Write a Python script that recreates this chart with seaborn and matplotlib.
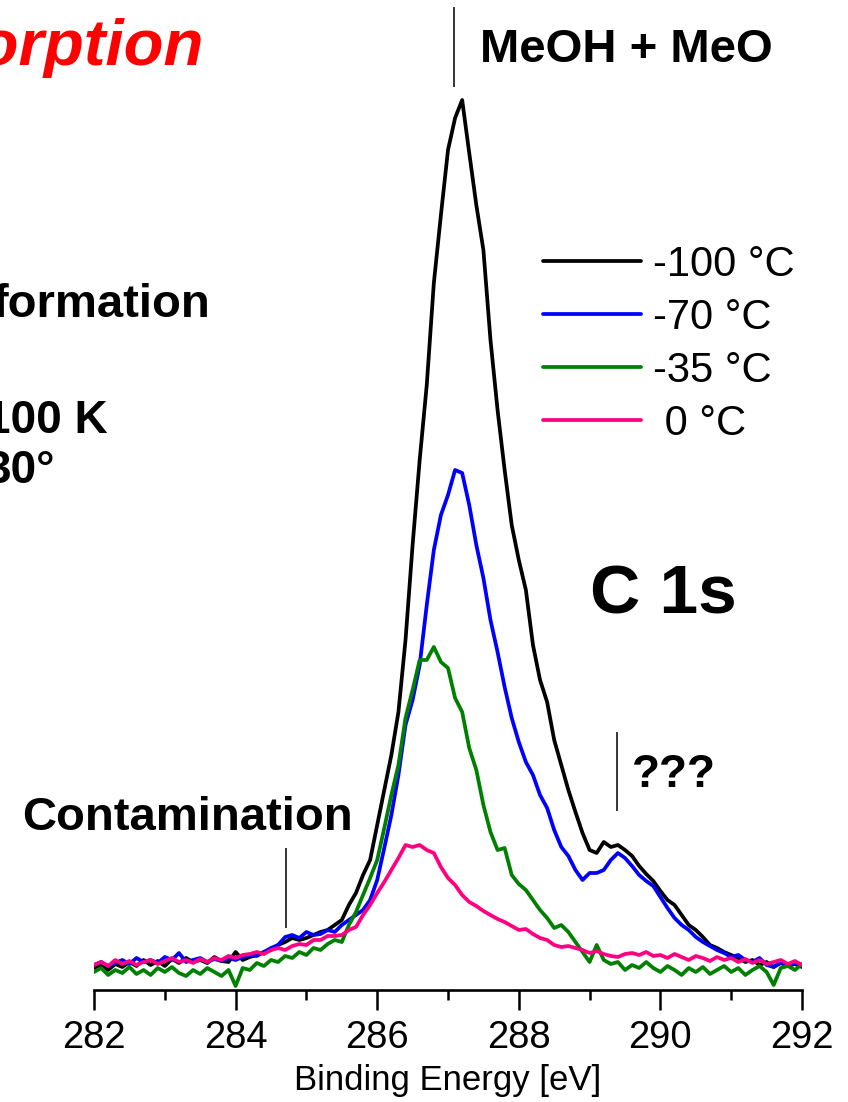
import numpy as np
import pandas as pd
import matplotlib
matplotlib.use("Agg")
import matplotlib.pyplot as plt
import seaborn as sns

# C 1s spectra after annealing to each temperature (arb. units, 0.1 eV steps)
energy = np.round(np.arange(282.0, 292.0 + 1e-9, 0.1), 1)

temps = ["-100 °C", "-70 °C", "-35 °C", " 0 °C"]
colors = ["#000000", "#0000FF", "#008000", "#FF0080"]

c1s_m100 = [
    22, 25, 20, 26, 23, 28, 24, 30, 25, 29,
    24, 31, 27, 32, 28, 30, 27, 33, 29, 28,
    38, 30, 33, 35, 38, 40, 45, 48, 52, 50,
    52, 55, 58, 60, 65, 70, 85, 97, 115, 130,
    165, 200, 235, 278, 350, 445, 530, 605, 707, 775,
    840, 872, 890, 837, 785, 740, 650, 580, 520, 465,
    430, 400, 345, 310, 288, 250, 225, 200, 178, 157,
    140, 137, 148, 143, 145, 140, 134, 124, 116, 109,
    99, 90, 85, 75, 65, 60, 53, 45, 42, 38,
    35, 32, 28, 30, 25, 28, 23, 27, 24, 26,
    23,
]
c1s_m70 = [
    25, 28, 24, 27, 30, 26, 32, 28, 30, 27,
    33, 30, 37, 28, 30, 32, 28, 31, 29, 32,
    30, 33, 35, 34, 38, 42, 45, 53, 55, 52,
    58, 55, 56, 60, 58, 65, 70, 75, 80, 90,
    110, 142, 175, 215, 265, 290, 325, 385, 440, 475,
    495, 520, 517, 485, 445, 412, 370, 338, 303, 272,
    248, 228, 215, 195, 182, 160, 143, 134, 120, 110,
    117, 117, 120, 130, 137, 132, 124, 115, 109, 104,
    93, 82, 72, 65, 60, 53, 48, 44, 40, 37,
    33, 35, 30, 28, 32, 25, 23, 28, 24, 27,
    24,
]
c1s_m35 = [
    18, 22, 15, 20, 17, 23, 16, 20, 15, 22,
    18, 23, 17, 14, 20, 16, 22, 18, 14, 20,
    4, 22, 20, 27, 24, 30, 28, 34, 32, 38,
    35, 42, 40, 46, 50, 48, 65, 78, 95, 112,
    130, 162, 195, 225, 272, 300, 330, 330, 343, 328,
    322, 292, 278, 242, 220, 185, 158, 140, 142, 115,
    106, 100, 90, 80, 72, 62, 65, 58, 48, 38,
    28, 45, 30, 26, 28, 20, 25, 22, 28, 22,
    18, 24, 20, 15, 22, 18, 23, 16, 20, 24,
    18, 22, 15, 20, 24, 18, 5, 22, 24, 20,
    26,
]
c1s_0 = [
    25, 28, 24, 30, 26, 29, 25, 28, 30, 26,
    29, 32, 28, 30, 27, 31, 28, 32, 30, 34,
    32, 35, 36, 38, 36, 40, 42, 40, 44, 46,
    45, 50, 50, 54, 54, 55, 60, 63, 75, 85,
    97, 108, 120, 132, 145, 143, 145, 140, 137, 123,
    112, 105, 95, 88, 84, 79, 75, 71, 68, 64,
    60, 61, 56, 52, 50, 45, 43, 44, 42, 40,
    37, 39, 36, 34, 33, 36, 37, 35, 38, 34,
    35, 32, 36, 33, 30, 34, 32, 29, 33, 30,
    32, 28, 31, 27, 30, 26, 28, 30, 26, 29,
    25,
]

# marker positions (eV) and their vertical extents (arb. units)
marker_e = [287.08, 289.39, 284.71]
marker_lo = [903, 179, 62]
marker_hi = [983, 258, 142]

df = pd.concat(
    [pd.DataFrame({"Binding Energy [eV]": energy, "Intensity": vals, "T": t})
     for t, vals in zip(temps, [c1s_m100, c1s_m70, c1s_m35, c1s_0])],
    ignore_index=True,
)

sns.set_style("white")
plt.rcParams["font.family"] = ["Liberation Sans", "DejaVu Sans"]
plt.rcParams["text.color"] = "black"
plt.rcParams["axes.labelcolor"] = "black"
plt.rcParams["xtick.color"] = "black"

W, H = 848, 1102
fig = plt.figure(figsize=(W / 100, H / 100), dpi=100)
ax = fig.add_axes([94 / W, (H - 990) / H, 708 / W, 990 / H])

sns.lineplot(data=df, x="Binding Energy [eV]", y="Intensity", hue="T",
             hue_order=temps, palette=dict(zip(temps, colors)),
             estimator=None, sort=False, linewidth=2.7, ax=ax)

ax.set_xlim(282, 292)
ax.set_ylim(0, 990)
ax.set_yticks([])
ax.set_ylabel("")
for s in ["left", "right", "top"]:
    ax.spines[s].set_visible(False)
ax.spines["bottom"].set_linewidth(1.9)
ax.spines["bottom"].set_color("black")

ax.set_xticks(np.arange(282, 293, 2))
ax.set_xticks(np.arange(283, 292, 2), minor=True)
ax.tick_params(axis="x", which="major", direction="out", length=14.5, width=1.8,
               labelsize=27.5, pad=7, bottom=True, colors="black")
ax.tick_params(axis="x", which="minor", direction="out", length=7.5, width=1.8,
               bottom=True)
ax.set_xlabel("Binding Energy [eV]", fontsize=25, labelpad=6, color="black")

ax.vlines(marker_e, marker_lo, marker_hi, colors="black", linewidth=1.1)

leg = ax.legend(loc="upper left", bbox_to_anchor=(543 / W, 1 - 245 / H),
                bbox_transform=fig.transFigure, frameon=False, fontsize=30,
                handlelength=2.35, handletextpad=0.28, labelspacing=0.31,
                borderpad=0, borderaxespad=0)
for line in leg.get_lines():
    line.set_linewidth(2.7)
for t in leg.get_texts():
    t.set_color("black")

bold = dict(fontweight="bold", color="black")
ax.text(287.45, 928, "MeOH + MeO", fontsize=34, ha="left", va="baseline", **bold)
ax.text(289.0, 376, "C 1s", fontsize=50, ha="left", va="baseline", **bold)
ax.text(289.60, 203, "???", fontsize=33, ha="left", va="baseline", **bold)
ax.text(280.98, 160, "Contamination", fontsize=34, ha="left", va="baseline",
        clip_on=False, **bold)

fig.text(204 / W, 1 - 65 / H, "Desorption", fontsize=47, fontweight="bold",
         fontstyle="italic", color="#FF0000", ha="right", va="baseline")
fig.text(210 / W, 1 - 317 / H, "formation", fontsize=34, ha="right",
         va="baseline", **bold)
fig.text(108 / W, 1 - 433 / H, "100 K", fontsize=33, ha="right",
         va="baseline", **bold)
fig.text(55 / W, 1 - 483 / H, "30°", fontsize=33, ha="right",
         va="baseline", **bold)

fig.savefig("out.png", dpi=100)
